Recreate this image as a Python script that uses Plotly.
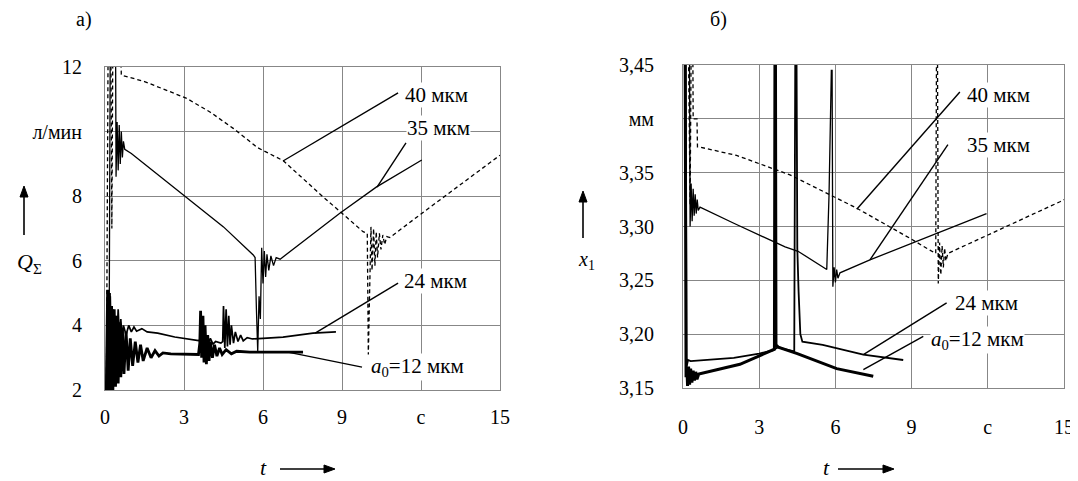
import plotly.graph_objects as go

# browser body margin offsets the figure by 8 px; size and place everything accordingly
OFF = 8
W, H = 1078 - OFF, 481 - OFF

# ---------------- data: panel a) Q_sum, l/min ----------------
a40_t = [0.05, 0.12, 0.22, 0.26, 0.30, 0.58, 0.62, 1.5, 3.1, 4.0, 4.87, 5.8, 6.77, 8.28, 9.2, 9.8, 9.96,
         10.0, 10.1, 10.14, 10.2, 10.25, 10.3, 10.35, 10.42, 10.48, 10.55, 10.62, 10.7, 10.82, 12.0, 13.5, 15.0]
a40_q = [1.5, 13.0, 13.0, 7.0, 13.0, 13.0, 11.75, 11.55, 11.03, 10.6, 10.1, 9.5, 9.1, 7.98, 7.33, 6.9, 6.85,
         3.1, 7.05, 5.7, 7.0, 5.85, 6.9, 6.1, 6.85, 6.35, 6.8, 6.5, 6.75, 6.72, 7.45, 8.35, 9.27]

a35_t = [0.15, 0.2, 0.4, 0.42, 0.46, 0.5, 0.54, 0.58, 0.62, 0.66, 0.7, 0.75, 1.0, 2.0, 3.1, 4.5, 5.63,
         5.7, 5.75, 5.8, 5.85, 5.9, 5.95, 6.0, 6.05, 6.1, 6.15, 6.22, 6.3, 6.4, 6.5, 6.65, 8.93, 10.3, 12.03]
a35_q = [2.0, 13.0, 13.0, 8.6, 10.3, 8.8, 10.2, 9.0, 10.0, 9.2, 9.7, 9.45, 9.32, 8.67, 7.98, 7.05, 6.18,
         6.1, 4.5, 3.2, 4.9, 4.2, 6.4, 5.3, 6.3, 5.5, 6.2, 5.7, 6.15, 5.85, 6.1, 6.05, 7.48, 8.28, 9.12]

a24_t = [0.05, 0.1, 0.15, 0.2, 0.25, 0.3, 0.35, 0.4, 0.45, 0.5, 0.55, 0.6, 0.65, 0.7, 0.8, 0.9, 1.0, 1.1,
         1.2, 1.4, 1.6, 2.0, 2.65, 3.0, 3.55, 3.6, 3.65, 3.7, 3.8, 3.9, 4.0, 4.1, 4.2, 4.4, 4.47, 4.5,
         4.55, 4.6, 4.65, 4.7, 4.75, 4.8, 4.88, 4.95, 5.05, 5.15, 5.25, 5.4, 5.6, 6.0, 6.76, 7.9, 8.77]
a24_q = [2.0, 4.8, 2.6, 4.9, 2.9, 4.5, 3.0, 4.3, 3.3, 4.5, 3.5, 4.2, 3.6, 4.0, 3.7, 4.0, 3.8, 3.95,
         3.82, 3.9, 3.8, 3.76, 3.64, 3.6, 3.53, 3.55, 3.9, 3.35, 3.7, 3.4, 3.6, 3.42, 3.5, 3.45, 3.5, 4.6,
         3.3, 4.5, 3.35, 4.3, 3.4, 4.0, 3.45, 3.8, 3.5, 3.7, 3.52, 3.62, 3.58, 3.6, 3.64, 3.76, 3.8]

a12_t = [0.05, 0.1, 0.13, 0.17, 0.21, 0.25, 0.3, 0.35, 0.4, 0.45, 0.5, 0.55, 0.6, 0.66, 0.72, 0.8, 0.88,
         0.96, 1.05, 1.15, 1.25, 1.35, 1.45, 1.6, 1.75, 1.9, 2.05, 2.2, 2.5, 3.0, 3.55, 3.6, 3.63, 3.67,
         3.72, 3.76, 3.8, 3.85, 3.9, 3.95, 4.0, 4.08, 4.16, 4.25, 4.35, 4.45, 4.6, 4.8, 5.0, 5.5, 6.0, 7.0, 7.52]
a12_q = [2.0, 5.1, 2.0, 5.0, 2.0, 4.6, 2.0, 4.5, 2.1, 4.3, 2.2, 4.1, 2.4, 3.9, 2.5, 3.8, 2.6,
         3.6, 2.75, 3.5, 2.85, 3.4, 2.9, 3.3, 3.0, 3.22, 3.05, 3.15, 3.12, 3.12, 3.1, 3.45, 4.45, 3.0,
         4.3, 2.85, 4.0, 2.8, 3.7, 2.9, 3.5, 3.0, 3.4, 3.05, 3.3, 3.1, 3.25, 3.12, 3.2, 3.17, 3.17, 3.17, 3.17]

# leader lines (t values, q values) and label anchors, panel a)
a_lead40 = ([6.76, 11.13], [9.09, 11.2])
a_lead35 = ([10.33, 11.43], [8.28, 9.65])
a_lead24 = ([7.98, 11.13], [3.76, 5.31])
a_lead12 = ([6.9, 9.76], [3.18, 2.71])
a_lab_t = [11.36, 11.43, 11.32, 10.06]
a_lab_q = [11.13, 10.11, 5.37, 2.71]

# ---------------- data: panel b) x1, mm ----------------
b40_t = [0.2, 0.28, 0.33, 0.38, 0.4, 0.55, 0.57, 0.62, 2.11, 4.21, 6.84, 8.15, 8.94, 9.72, 9.95,
         9.98, 10.02, 10.05, 10.1, 10.15, 10.2, 10.25, 10.3, 10.35, 10.43, 14.84, 15.0]
b40_x = [3.5, 3.32, 3.5, 3.5, 3.40, 3.40, 3.374, 3.374, 3.366, 3.348, 3.317, 3.30, 3.289, 3.278, 3.275,
         3.46, 3.46, 3.247, 3.285, 3.255, 3.282, 3.262, 3.28, 3.268, 3.275, 3.323, 3.325]

b35_t = [0.0, 0.25, 0.28, 0.32, 0.36, 0.4, 0.44, 0.48, 0.52, 0.56, 0.6, 0.67, 2.0, 4.02, 4.53, 5.66,
         5.75, 5.84, 5.87, 5.9, 5.95, 6.0, 6.05, 6.1, 6.18, 7.36, 11.95]
b35_x = [3.5, 3.5, 3.30, 3.34, 3.305, 3.335, 3.31, 3.33, 3.312, 3.325, 3.315, 3.318, 3.303, 3.281, 3.277, 3.26,
         3.33, 3.445, 3.445, 3.244, 3.262, 3.248, 3.26, 3.252, 3.257, 3.269, 3.312]

b24_t = [0.0, 0.1, 0.14, 0.2, 0.3, 1.0, 2.0, 3.0, 3.54, 3.75, 4.0, 4.38, 4.42, 4.47, 4.5, 4.55, 4.62,
         4.7, 5.5, 7.1, 8.67]
b24_x = [3.5, 3.5, 3.17, 3.176, 3.175, 3.176, 3.178, 3.182, 3.185, 3.188, 3.186, 3.184, 3.46, 3.46, 3.28,
         3.24, 3.20, 3.193, 3.19, 3.181, 3.176]

b12_t = [0.0, 0.08, 0.12, 0.15, 0.18, 0.22, 0.26, 0.3, 0.35, 0.4, 0.45, 0.5, 0.55, 0.62, 2.24, 3.6,
         3.62, 3.64, 3.66, 3.75, 4.5, 6.05, 7.49]
b12_x = [3.5, 3.5, 3.16, 3.17, 3.152, 3.17, 3.153, 3.168, 3.155, 3.166, 3.157, 3.165, 3.158, 3.163, 3.172, 3.186,
         3.46, 3.46, 3.19, 3.188, 3.182, 3.168, 3.161]

b_lead40 = ([6.84, 10.9], [3.316, 3.425])
b_lead35 = ([7.36, 10.43], [3.269, 3.376])
b_lead24 = ([7.1, 10.38], [3.181, 3.229])
b_lead12 = ([7.1, 9.46], [3.167, 3.198])
b_lab_t = [11.14, 11.14, 10.67, 9.72]
b_lab_x = [3.422, 3.376, 3.229, 3.195]

labels = ["40 мкм", "35 мкм", "24 мкм", "<i>a</i><sub>0</sub>=12 мкм"]

x_tickvals = [0, 3, 6, 9, 12, 15]
x_ticktext = ["0", "3", "6", "9", "с", "15"]
a_tickvals = [2, 4, 6, 8, 10, 12]
a_ticktext = ["2", "4", "6", "8", "л/мин", "12"]
b_tickvals = [3.15, 3.20, 3.25, 3.30, 3.35, 3.40, 3.45]
b_ticktext = ["3,15", "3,20", "3,25", "3,30", "3,35", "мм", "3,45"]

# ---------------- figure ----------------
FONT = "Liberation Serif"
fig = go.Figure()

def add(t, v, ax, width, dash=None):
    fig.add_trace(go.Scatter(x=t, y=v, mode="lines", xaxis=ax[0], yaxis=ax[1],
                             line=dict(color="black", width=width, dash=dash),
                             hoverinfo="skip", showlegend=False))

A = ("x", "y")
B = ("x2", "y2")
DASH = "4px,3px"
add(a40_t, a40_q, A, 1.3, DASH)
add(a35_t, a35_q, A, 1.3)
add(a24_t, a24_q, A, 1.7)
add(a12_t, a12_q, A, 2.8)
for ld in (a_lead40, a_lead35, a_lead24, a_lead12):
    add(ld[0], ld[1], A, 1.4)

add(b40_t, b40_x, B, 1.3, DASH)
add(b35_t, b35_x, B, 1.3)
add(b24_t, b24_x, B, 1.8)
add(b12_t, b12_x, B, 3.0)
for ld in (b_lead40, b_lead35, b_lead24, b_lead12):
    add(ld[0], ld[1], B, 1.4)

LAB = 21
ann = []
for t, v, s in zip(a_lab_t, a_lab_q, labels):
    ann.append(dict(x=t, y=v, xref="x", yref="y", text=s, showarrow=False, xanchor="left",
                    yanchor="middle", bgcolor="white", borderpad=0,
                    font=dict(family=FONT, size=LAB, color="black")))
for t, v, s in zip(b_lab_t, b_lab_x, labels):
    ann.append(dict(x=t, y=v, xref="x2", yref="y2", text=s, showarrow=False, xanchor="left",
                    yanchor="middle", bgcolor="white", borderpad=0,
                    font=dict(family=FONT, size=LAB, color="black")))

def P(px, py):
    # window pixel -> paper fraction
    return (px - OFF) / W, 1 - (py - OFF) / H

def text(px, py, s, size=20):
    x, y = P(px, py)
    ann.append(dict(x=x, y=y, xref="paper", yref="paper", text=s, showarrow=False,
                    xanchor="center", yanchor="middle",
                    font=dict(family=FONT, size=size, color="black")))

shapes = []

def arrow(hx, hy, tx, ty):
    x0, y0 = P(tx, ty)
    x1, y1 = P(hx, hy)
    L = 11.0
    dx, dy = hx - tx, hy - ty
    n = (dx * dx + dy * dy) ** 0.5
    ux, uy = dx / n, dy / n
    bx, by = hx - ux * L, hy - uy * L
    xb, yb = P(bx, by)
    shapes.append(dict(type="line", xref="paper", yref="paper", x0=x0, y0=y0, x1=xb, y1=yb,
                       line=dict(color="black", width=1.6)))
    px_, py_ = -uy, ux
    w = 4.0
    c1 = P(bx + px_ * w, by + py_ * w)
    c2 = P(bx - px_ * w, by - py_ * w)
    path = f"M {x1} {y1} L {c1[0]} {c1[1]} L {c2[0]} {c2[1]} Z"
    shapes.append(dict(type="path", xref="paper", yref="paper", path=path,
                       fillcolor="black", line=dict(color="black", width=1)))

text(84, 20, "а)")
text(718, 20, "б)")
text(29, 263, "<i>Q</i><sub>Σ</sub>", 22)
text(586, 261, "<i>x</i><sub>1</sub>", 20)
arrow(24, 186, 24, 235)
arrow(583, 191, 583, 238)
text(263, 467, "<i>t</i>", 22)
arrow(335, 469, 280, 469)
text(826, 467, "<i>t</i>", 22)
arrow(894, 469, 838, 469)

GRID = "#878787"
axis_common = dict(showgrid=True, gridcolor=GRID, gridwidth=1, showline=True, linecolor=GRID,
                   linewidth=1, mirror=True, zeroline=False, ticks="outside", automargin=False,
                   tickcolor="rgba(0,0,0,0)", tickfont=dict(family=FONT, size=20, color="black"))

def dx(a, b):
    return [(a - OFF) / W, (b - OFF) / W]

def dy(top, bottom):
    return [1 - (bottom - OFF) / H, 1 - (top - OFF) / H]

fig.update_layout(
    width=W, height=H, margin=dict(l=0, r=0, t=0, b=0, pad=0, autoexpand=False),
    paper_bgcolor="white", plot_bgcolor="white", showlegend=False,
    annotations=ann, shapes=shapes,
    xaxis=dict(domain=dx(105, 500), range=[0, 15], tickvals=x_tickvals, ticktext=x_ticktext,
               anchor="y", ticklen=9, **axis_common),
    yaxis=dict(domain=dy(67, 390), range=[2, 12], tickvals=a_tickvals, ticktext=a_ticktext,
               anchor="x", ticklen=18, **axis_common),
    xaxis2=dict(domain=dx(683, 1064), range=[0, 15], tickvals=x_tickvals, ticktext=x_ticktext,
                anchor="y2", ticklen=21, **axis_common),
    yaxis2=dict(domain=dy(65, 388), range=[3.15, 3.45], tickvals=b_tickvals,
                ticktext=b_ticktext, anchor="x2", ticklen=24, **axis_common),
)

fig.write_html("out.html")
